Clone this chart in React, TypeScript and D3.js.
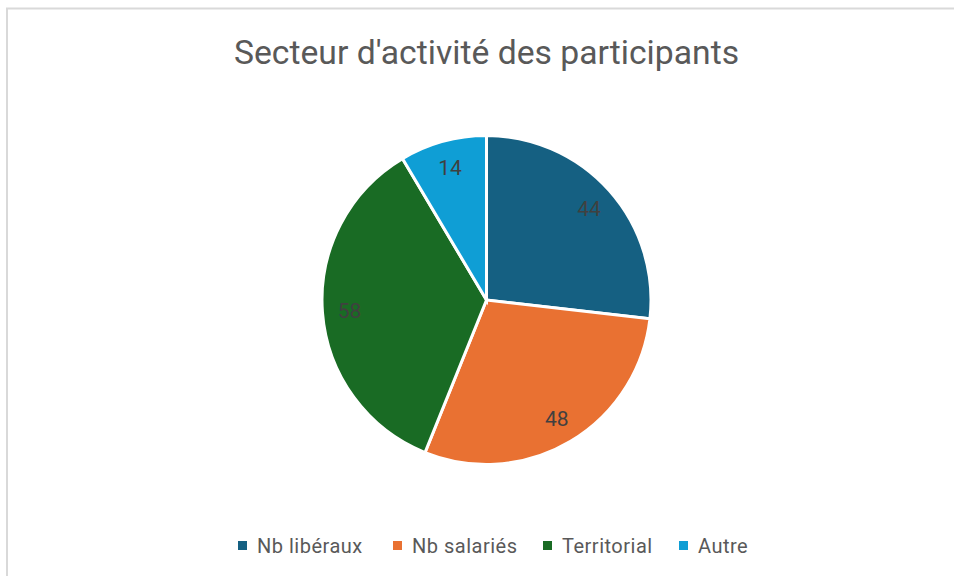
import React from "react";
import * as d3 from "d3";

const categories = ["Nb libéraux", "Nb salariés", "Territorial", "Autre"];
const values = [44, 48, 58, 14];
const colors = ["#156082", "#E97132", "#196B24", "#0F9ED5"];
const title = "Secteur d'activité des participants";

export default function App() {
  const W = 954, H = 576;
  const cx = 486.5, cy = 300, r = 164.5;
  const pie = d3.pie<number>().sort(null).value((d) => d)(values);
  const arc = d3.arc<d3.PieArcDatum<number>>().innerRadius(0).outerRadius(r);
  const labelArc = d3.arc<d3.PieArcDatum<number>>().innerRadius(r * 0.835).outerRadius(r * 0.835);
  const legendX = [238, 393, 543, 679];
  return (
    <svg width={W} height={H} style={{ position: "absolute", left: 0, top: 0, fontFamily: "Roboto, 'Open Sans', sans-serif" }}>
      <rect x={0} y={0} width={W} height={H} fill="#fff" />
      <rect x={7} y={8.5} width={W + 20} height={H + 20} fill="#fff" stroke="#d9d9d9" strokeWidth={2} />
      <text x={cx} y={64} textAnchor="middle" fontSize={33.7} fill="#595959">{title}</text>
      <g transform={`translate(${cx},${cy})`}>
        {pie.map((p, i) => (
          <path key={i} d={arc(p) || ""} fill={colors[i]} stroke="#fff" strokeWidth={3} />
        ))}
        {pie.map((p, i) => {
          const [x, y] = labelArc.centroid(p);
          return (
            <text key={i} x={x} y={y + 7.5} textAnchor="middle" fontSize={21} fill="#404040">{values[i]}</text>
          );
        })}
      </g>
      {categories.map((c, i) => (
        <g key={c} transform={`translate(${legendX[i]},0)`}>
          <rect x={0} y={541} width={9} height={9} fill={colors[i]} />
          <text x={19} y={553} fontSize={20} letterSpacing={0.5} fill="#595959">{c}</text>
        </g>
      ))}
    </svg>
  );
}
